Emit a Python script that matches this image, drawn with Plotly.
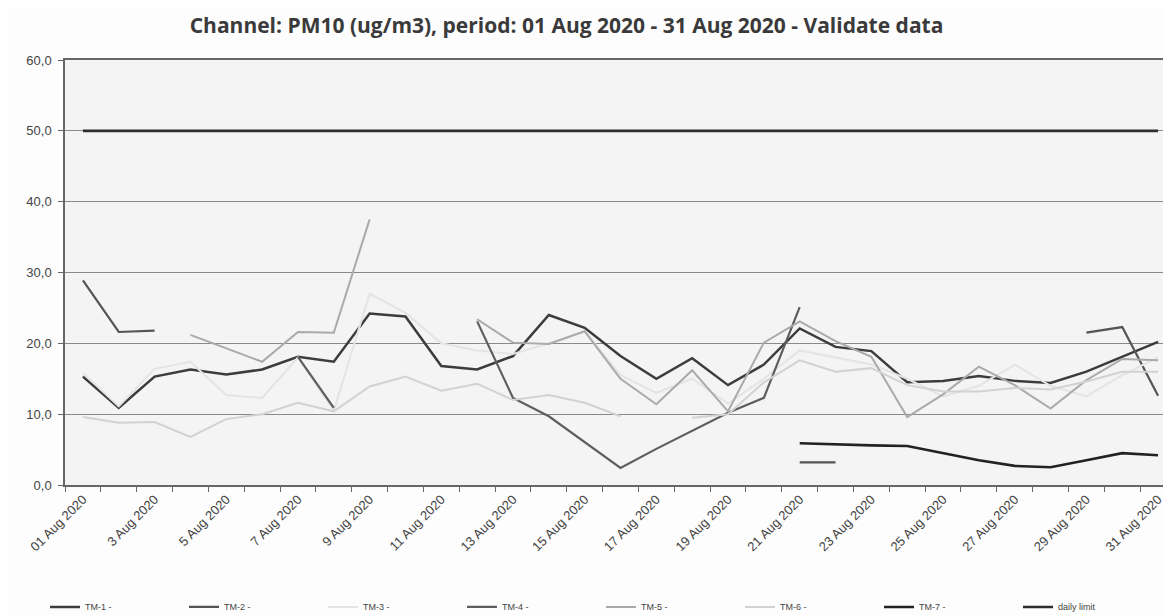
import plotly.graph_objects as go

days = list(range(1, 32))
tick_days = list(range(1, 32, 2))
tick_labels = ["01 Aug 2020"] + [f"{d} Aug 2020" for d in range(3, 32, 2)]

N = None
tm1 = [15.3, 10.9, 15.3, 16.3, 15.6, 16.3, 18.1, 17.4, 24.2, 23.8, 16.8, 16.3, 18.2, 24.0, 22.2, 18.2,
       15.0, 17.9, 14.1, 17.0, 22.1, 19.5, 18.9, 14.5, 14.7, 15.4, 14.7, 14.4, 16.0, 18.1, 20.2]
tm2 = [28.9, 21.6, 21.8, N, N, N, N, N, N, N, N, N, N, N, N, N,
       N, N, N, N, 3.2, 3.2, N, N, N, N, N, N, 21.5, 22.3, 12.6]
tm3 = [15.8, 11.1, 16.4, 17.4, 12.7, 12.3, 18.0, 10.5, 27.0, 24.3, 20.0, 19.0, 18.5, 20.0, 21.7, 15.5,
       13.0, 15.0, 11.5, 15.0, 19.0, 18.0, 17.0, 15.0, 12.5, 14.0, 17.0, 14.0, 12.5, 15.5, 18.0]
tm4 = [N, N, N, N, N, N, 18.1, 10.9, N, N, N, 23.1, 12.3, 9.7, 6.1, 2.4,
       5.1, 7.7, 10.2, 12.3, 25.1, N, N, N, N, N, N, N, N, N, N]
tm5 = [N, N, N, 21.2, 19.3, 17.4, 21.6, 21.5, 37.5, N, N, 23.4, 20.1, 19.9, 21.7, 15.0,
       11.4, 16.2, 10.4, 20.1, 23.1, 20.3, 18.1, 9.6, 12.8, 16.7, 14.1, 10.8, 14.8, 17.8, 17.6]
tm6 = [9.6, 8.8, 8.9, 6.8, 9.3, 10.0, 11.6, 10.4, 13.9, 15.3, 13.3, 14.3, 12.0, 12.7, 11.6, 9.7,
       N, 9.5, 10.0, 14.5, 17.6, 16.0, 16.5, 14.1, 13.2, 13.2, 13.7, 13.5, 14.6, 16.0, 16.0]
tm7 = [N] * 20 + [5.9, 5.7, 5.6, 5.5, 4.5, 3.5, 2.7, 2.5, 3.5, 4.5, 4.2]
daily_limit = [50.0] * 31

series = [
    ("TM-1 -", tm1, "#3c3c3c", 2.5),
    ("TM-2 -", tm2, "#555555", 2.2),
    ("TM-3 -", tm3, "#e4e4e4", 2.0),
    ("TM-4 -", tm4, "#5e5e5e", 2.2),
    ("TM-5 -", tm5, "#aaaaaa", 2.0),
    ("TM-6 -", tm6, "#d2d2d2", 2.0),
    ("TM-7 -", tm7, "#222222", 2.6),
    ("daily limit", daily_limit, "#2e2e2e", 2.6),
]

fig = go.Figure()
for name, vals, color, w in series:
    fig.add_trace(go.Scatter(x=days, y=vals, name=name, mode="lines",
                             line=dict(color=color, width=w), connectgaps=False))

fig.update_layout(
    width=1171, height=615,
    margin=dict(l=57, r=1, t=52, b=134),
    paper_bgcolor="#fdfdfd", plot_bgcolor="#f4f4f4",
    separators=",.",
    title=dict(text="<b>Channel: PM10 (ug/m3), period: 01 Aug 2020 - 31 Aug 2020 - Validate data</b>",
               x=0.477, xref="container", xanchor="center", y=0.972, yanchor="middle",
               font=dict(family="Open Sans", size=21, color="#3a3a3a")),
    showlegend=True,
    legend=dict(orientation="h", x=-0.018, xanchor="left", y=-0.287, yanchor="middle",
                entrywidth=94, entrywidthmode="pixels", itemwidth=30,
                font=dict(family="Liberation Sans", size=9, color="#444"),
                bgcolor="rgba(0,0,0,0)", traceorder="normal"),
    font=dict(family="Liberation Sans", color="#444"),
)

fig.update_xaxes(
    range=[0.5, 31.5], tickmode="array", tickvals=tick_days, ticktext=tick_labels,
    tickangle=-45, ticks="", showgrid=False, zeroline=False,
    showline=True, linecolor="#666", linewidth=1.5, mirror=True,
    tickfont=dict(family="Liberation Sans", size=13, color="#444"),
    minor=dict(tickmode="linear", tick0=0.5, dtick=1, ticks="outside", ticklen=5,
               tickcolor="#666", tickwidth=1.2, showgrid=False),
)
fig.update_yaxes(
    range=[0, 60], tickmode="linear", tick0=0, dtick=10, tickformat=".1f",
    ticks="outside", ticklen=5, tickcolor="#666", ticklabelstandoff=4,
    showgrid=True, gridcolor="#8a8a8a", gridwidth=1.2, zeroline=False,
    showline=True, linecolor="#666", linewidth=1.5, mirror=True,
    tickfont=dict(family="Liberation Sans", size=13, color="#444"),
)

fig.write_html("out.html")
